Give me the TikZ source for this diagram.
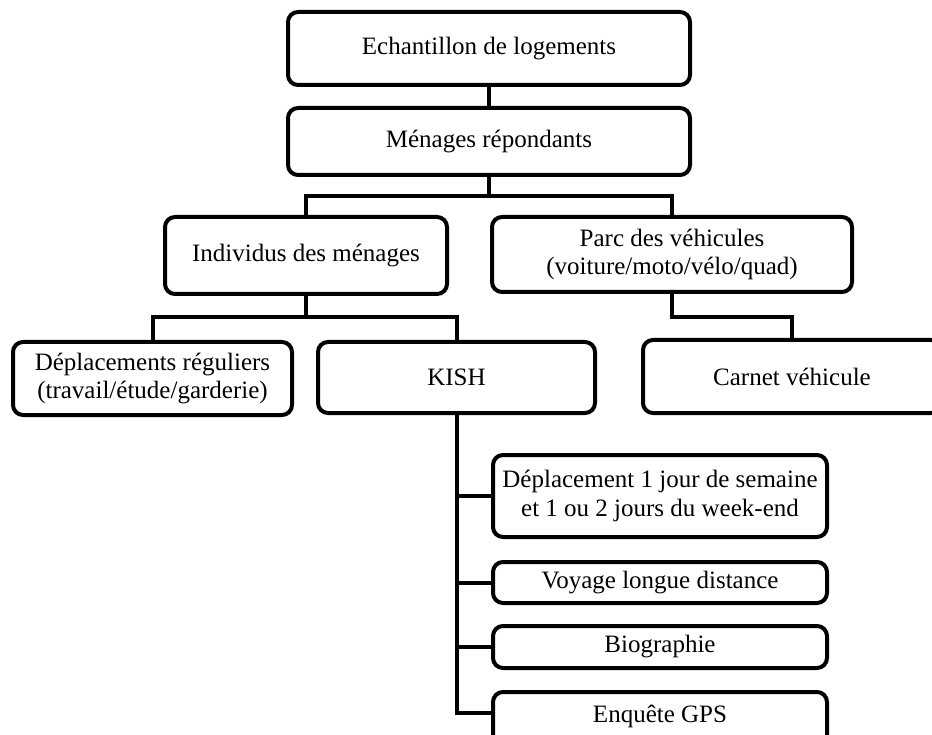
\documentclass[tikz,border=0pt]{standalone}
\usepackage{fontspec}
\setmainfont{Liberation Serif}
\newcommand\boxfont{\fontsize{25}{28.5}\selectfont}
\tikzset{
  orgbox/.style={draw=black, line width=4pt, rounded corners=10pt, inner sep=0pt,
    align=center, font=\boxfont, fill=white},
  conn/.style={draw=black, line width=4pt, line join=miter}
}
\begin{document}
\begin{tikzpicture}[x=1pt,y=-1pt]
\clip (0,0) rectangle (932,735);
\fill[white] (0,0) rectangle (932,735);

\node[orgbox, minimum width=402pt, minimum height=73pt] (b1) at (489,48.5) {Echantillon de logements};
\node[orgbox, minimum width=402pt, minimum height=67pt] (b2) at (489,141.5) {Ménages répondants};
\node[orgbox, minimum width=282pt, minimum height=77pt] (ind) at (306,255.5) {Individus des ménages};
\node[orgbox, minimum width=360pt, minimum height=75pt] (parc) at (672,254.5) {Parc des véhicules\\(voiture/moto/vélo/quad)};
\node[orgbox, minimum width=279pt, minimum height=73pt] (dr) at (152.5,378.5) {Déplacements réguliers\\(travail/étude/garderie)};
\node[orgbox, minimum width=277pt, minimum height=71pt] (kish) at (456.5,377.5) {KISH};
\node[orgbox, minimum width=298pt, minimum height=73pt] (carnet) at (792,376.5) {Carnet véhicule};
\node[orgbox, minimum width=334pt, minimum height=82pt] (d1) at (660,496) {Déplacement 1 jour de semaine\\et 1 ou 2 jours du week-end};
\node[orgbox, minimum width=334pt, minimum height=41pt] (voy) at (660,582.5) {Voyage longue distance};
\node[orgbox, minimum width=334pt, minimum height=42pt] (bio) at (660,647) {Biographie};
\node[orgbox, minimum width=334pt, minimum height=56pt, text depth=12pt] (gps) at (660,720) {Enquête GPS};

\coordinate (j1) at (0,196);
\coordinate (j2) at (0,317);
\coordinate (k4) at (456.5,713);

\draw[conn] (b1.south) -- (b2.north);
\draw[conn] (b2.south) -- (b2.south |- j1);
\draw[conn] (ind.north) -- (ind.north |- j1) -- (parc.north |- j1) -- (parc.north);
\draw[conn] (ind.south) -- (ind.south |- j2);
\draw[conn] (dr.north) -- (dr.north |- j2) -- (kish.north |- j2) -- (kish.north);
\draw[conn] (parc.south) -- (parc.south |- j2) -- (carnet.north |- j2) -- (carnet.north);
\draw[conn] (kish.south) -- (k4) -- (gps.west |- k4);
\draw[conn] (d1.west) -- (d1.west -| k4);
\draw[conn] (voy.west) -- (voy.west -| k4);
\draw[conn] (bio.west) -- (bio.west -| k4);
\end{tikzpicture}
\end{document}
